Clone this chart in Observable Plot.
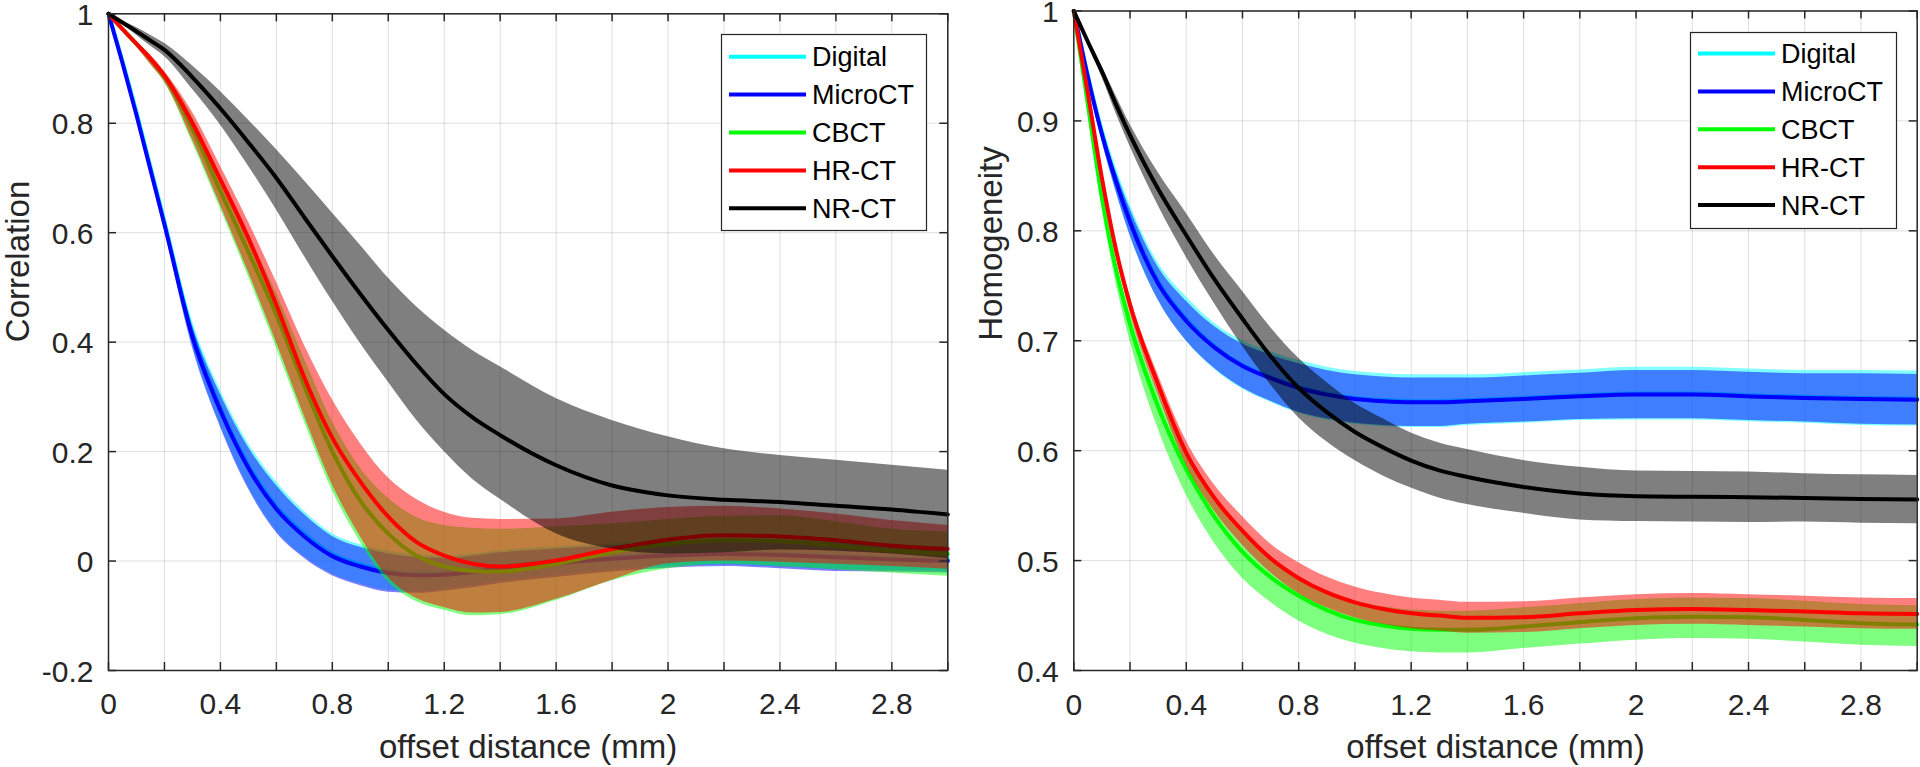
<!DOCTYPE html>
<html><head><meta charset="utf-8">
<script src="https://cdn.jsdelivr.net/npm/d3@7"></script>
<script src="https://cdn.jsdelivr.net/npm/@observablehq/plot@0.6"></script>
<style>
body{margin:0;background:#fff;}
#wrap{position:relative;width:1920px;height:767px;overflow:hidden;font-family:"Liberation Sans",Arial,Helvetica,sans-serif;background:#fff;}
.panel{position:absolute;top:0;}
.legend{position:absolute;top:0;left:0;}
</style></head><body><div id="wrap"></div>
<script>
// ---------- data ----------
const offset = [0, 0.05, 0.1, 0.15, 0.2, 0.3, 0.4, 0.5, 0.6, 0.7, 0.8, 0.9, 1.0, 1.1, 1.2, 1.3, 1.4, 1.6, 1.8, 2.0, 2.2, 2.4, 2.6, 2.8, 3.0];
const seriesNames = ["Digital", "MicroCT", "CBCT", "HR-CT", "NR-CT"];
const seriesColors = ["#00ffff", "#0000ff", "#00ff00", "#ff0000", "#000000"];

const xGridTicks = [0, 0.2, 0.4, 0.6, 0.8, 1, 1.2, 1.4, 1.6, 1.8, 2, 2.2, 2.4, 2.6, 2.8, 3];
const xLabelTicks = [0, 0.4, 0.8, 1.2, 1.6, 2, 2.4, 2.8];
const corrTicks = [-0.2, 0, 0.2, 0.4, 0.6, 0.8, 1];
const homTicks = [0.4, 0.5, 0.6, 0.7, 0.8, 0.9, 1];

// Correlation (left)
const corrDgMean = [1, 0.913, 0.820, 0.720, 0.620, 0.416, 0.280, 0.175, 0.100, 0.050, 0.013, -0.006, -0.018, -0.022, -0.021, -0.016, -0.009, 0.000, 0.008, 0.013, 0.016, 0.014, 0.010, 0.006, 0.003];
const corrDgHi   = [1, 0.917, 0.827, 0.730, 0.632, 0.438, 0.312, 0.215, 0.145, 0.091, 0.050, 0.030, 0.018, 0.012, 0.009, 0.013, 0.019, 0.026, 0.031, 0.036, 0.039, 0.039, 0.036, 0.029, 0.025];
const corrDgLo   = [1, 0.909, 0.813, 0.710, 0.608, 0.394, 0.248, 0.135, 0.055, 0.008, -0.024, -0.042, -0.054, -0.056, -0.051, -0.045, -0.037, -0.026, -0.016, -0.010, -0.007, -0.011, -0.016, -0.017, -0.019];

const corrMcMean = [1, 0.910, 0.815, 0.715, 0.615, 0.410, 0.275, 0.170, 0.095, 0.045, 0.009, -0.010, -0.022, -0.026, -0.025, -0.020, -0.013, -0.004, 0.004, 0.010, 0.013, 0.011, 0.007, 0.003, 0.000];
const corrMcHi   = [1, 0.913, 0.821, 0.723, 0.625, 0.430, 0.305, 0.208, 0.138, 0.085, 0.045, 0.025, 0.013, 0.007, 0.005, 0.009, 0.015, 0.022, 0.028, 0.033, 0.036, 0.036, 0.033, 0.026, 0.022];
const corrMcLo   = [1, 0.907, 0.809, 0.707, 0.605, 0.390, 0.245, 0.132, 0.052, 0.005, -0.027, -0.045, -0.057, -0.059, -0.055, -0.049, -0.041, -0.030, -0.020, -0.013, -0.010, -0.014, -0.019, -0.020, -0.022];

const corrCbMean = [1, 0.972, 0.945, 0.917, 0.885, 0.790, 0.676, 0.565, 0.450, 0.320, 0.200, 0.110, 0.050, 0.010, -0.010, -0.018, -0.019, -0.005, 0.016, 0.031, 0.038, 0.036, 0.028, 0.019, 0.013];
const corrCbHi   = [1, 0.975, 0.950, 0.923, 0.893, 0.812, 0.700, 0.595, 0.490, 0.370, 0.255, 0.170, 0.115, 0.080, 0.065, 0.060, 0.058, 0.062, 0.068, 0.076, 0.082, 0.083, 0.072, 0.058, 0.053];
const corrCbLo   = [1, 0.968, 0.940, 0.908, 0.875, 0.765, 0.644, 0.520, 0.390, 0.255, 0.129, 0.035, -0.038, -0.074, -0.090, -0.100, -0.098, -0.072, -0.036, -0.014, -0.006, -0.010, -0.016, -0.022, -0.028];

const corrHrMean = [1, 0.972, 0.945, 0.918, 0.887, 0.800, 0.697, 0.590, 0.468, 0.335, 0.225, 0.145, 0.081, 0.035, 0.010, -0.005, -0.010, 0.001, 0.022, 0.039, 0.047, 0.045, 0.038, 0.028, 0.022];
const corrHrHi   = [1, 0.975, 0.950, 0.925, 0.895, 0.820, 0.722, 0.620, 0.510, 0.395, 0.295, 0.215, 0.152, 0.113, 0.089, 0.078, 0.076, 0.077, 0.089, 0.098, 0.100, 0.095, 0.086, 0.074, 0.065];
const corrHrLo   = [1, 0.970, 0.940, 0.908, 0.876, 0.770, 0.650, 0.528, 0.400, 0.265, 0.140, 0.045, -0.030, -0.068, -0.085, -0.095, -0.094, -0.070, -0.035, -0.005, 0.000, -0.002, -0.006, -0.010, -0.015];

const corrNrMean = [1, 0.984, 0.968, 0.951, 0.934, 0.884, 0.827, 0.765, 0.700, 0.628, 0.557, 0.488, 0.422, 0.360, 0.305, 0.263, 0.230, 0.175, 0.138, 0.120, 0.112, 0.108, 0.101, 0.094, 0.085];
const corrNrHi   = [1, 0.987, 0.975, 0.961, 0.946, 0.905, 0.858, 0.806, 0.752, 0.695, 0.636, 0.577, 0.517, 0.465, 0.422, 0.385, 0.355, 0.297, 0.257, 0.227, 0.205, 0.193, 0.184, 0.175, 0.166];
const corrNrLo   = [1, 0.981, 0.961, 0.941, 0.922, 0.862, 0.797, 0.722, 0.642, 0.557, 0.475, 0.398, 0.327, 0.258, 0.200, 0.150, 0.113, 0.050, 0.022, 0.013, 0.015, 0.020, 0.018, 0.013, 0.004];

// Homogeneity (right)
const homDgMean = [1, 0.941, 0.890, 0.847, 0.810, 0.754, 0.720, 0.695, 0.678, 0.667, 0.658, 0.652, 0.648, 0.646, 0.645, 0.645, 0.646, 0.648, 0.6504, 0.652, 0.652, 0.6504, 0.649, 0.648, 0.6474];
const homDgHi   = [1, 0.945, 0.898, 0.858, 0.824, 0.771, 0.740, 0.716, 0.700, 0.690, 0.682, 0.676, 0.672, 0.670, 0.669, 0.669, 0.669, 0.671, 0.6734, 0.676, 0.676, 0.6744, 0.673, 0.673, 0.6724];
const homDgLo   = [1, 0.937, 0.882, 0.836, 0.796, 0.737, 0.700, 0.674, 0.656, 0.644, 0.634, 0.628, 0.624, 0.622, 0.621, 0.621, 0.623, 0.625, 0.6274, 0.628, 0.628, 0.6264, 0.625, 0.623, 0.6224];

const homMcMean = [1, 0.940, 0.888, 0.845, 0.808, 0.752, 0.718, 0.694, 0.677, 0.666, 0.657, 0.651, 0.647, 0.645, 0.644, 0.644, 0.645, 0.647, 0.6494, 0.651, 0.651, 0.6494, 0.648, 0.647, 0.6464];
const homMcHi   = [1, 0.943, 0.894, 0.854, 0.820, 0.767, 0.736, 0.713, 0.697, 0.687, 0.679, 0.673, 0.669, 0.667, 0.666, 0.666, 0.666, 0.668, 0.6704, 0.673, 0.673, 0.6714, 0.670, 0.670, 0.6694];
const homMcLo   = [1, 0.937, 0.882, 0.836, 0.796, 0.737, 0.700, 0.675, 0.657, 0.645, 0.635, 0.629, 0.625, 0.623, 0.622, 0.622, 0.624, 0.626, 0.6284, 0.629, 0.629, 0.6274, 0.626, 0.624, 0.6234];

const homCbMean = [1, 0.915, 0.830, 0.765, 0.715, 0.640, 0.583, 0.540, 0.508, 0.485, 0.468, 0.455, 0.446, 0.441, 0.438, 0.437, 0.437, 0.440, 0.444, 0.4476, 0.449, 0.4485, 0.446, 0.443, 0.4418];
const homCbHi   = [1, 0.918, 0.837, 0.774, 0.726, 0.654, 0.598, 0.556, 0.525, 0.502, 0.485, 0.472, 0.463, 0.458, 0.455, 0.454, 0.454, 0.457, 0.461, 0.4646, 0.466, 0.4655, 0.463, 0.460, 0.4588];
const homCbLo   = [1, 0.912, 0.822, 0.753, 0.700, 0.620, 0.560, 0.516, 0.484, 0.462, 0.445, 0.433, 0.425, 0.420, 0.417, 0.416, 0.416, 0.420, 0.424, 0.4276, 0.429, 0.4285, 0.426, 0.423, 0.4218];

const homHrMean = [1, 0.925, 0.848, 0.783, 0.733, 0.660, 0.598, 0.557, 0.527, 0.502, 0.484, 0.471, 0.462, 0.456, 0.452, 0.450, 0.448, 0.4485, 0.452, 0.455, 0.456, 0.455, 0.4536, 0.452, 0.4515];
const homHrHi   = [1, 0.928, 0.853, 0.789, 0.740, 0.669, 0.609, 0.569, 0.540, 0.515, 0.498, 0.485, 0.476, 0.470, 0.466, 0.464, 0.462, 0.4625, 0.466, 0.469, 0.470, 0.469, 0.4676, 0.466, 0.4655];
const homHrLo   = [1, 0.922, 0.843, 0.777, 0.726, 0.651, 0.587, 0.545, 0.514, 0.489, 0.470, 0.457, 0.448, 0.442, 0.438, 0.436, 0.434, 0.4345, 0.438, 0.441, 0.442, 0.441, 0.4396, 0.438, 0.4375];

const homNrMean = [1, 0.972, 0.945, 0.915, 0.887, 0.838, 0.796, 0.756, 0.720, 0.686, 0.657, 0.635, 0.617, 0.603, 0.591, 0.582, 0.576, 0.567, 0.561, 0.5585, 0.558, 0.5576, 0.557, 0.556, 0.5555];
const homNrHi   = [1, 0.975, 0.950, 0.923, 0.897, 0.853, 0.816, 0.778, 0.745, 0.712, 0.684, 0.662, 0.643, 0.629, 0.616, 0.607, 0.601, 0.591, 0.585, 0.5815, 0.581, 0.5806, 0.579, 0.578, 0.5775];
const homNrLo   = [1, 0.969, 0.940, 0.907, 0.877, 0.823, 0.776, 0.734, 0.695, 0.660, 0.630, 0.608, 0.591, 0.577, 0.566, 0.557, 0.551, 0.543, 0.537, 0.5355, 0.535, 0.5346, 0.535, 0.534, 0.5335];

// ---------- build ----------
const FONT = '"Liberation Sans", Arial, Helvetica, sans-serif';
const AX = "#262626";
function rows(mean, lo, hi) { return offset.map((x, i) => ({x, mean: mean[i], lo: lo[i], hi: hi[i]})); }

const corrSeries = [
  rows(corrDgMean, corrDgLo, corrDgHi), rows(corrMcMean, corrMcLo, corrMcHi),
  rows(corrCbMean, corrCbLo, corrCbHi), rows(corrHrMean, corrHrLo, corrHrHi),
  rows(corrNrMean, corrNrLo, corrNrHi)
];
const homSeries = [
  rows(homDgMean, homDgLo, homDgHi), rows(homMcMean, homMcLo, homMcHi),
  rows(homCbMean, homCbLo, homCbHi), rows(homHrMean, homHrLo, homHrHi),
  rows(homNrMean, homNrLo, homNrHi)
];

function panel(cfg) {
  const W = 960, H = 767;
  const {mL, mR, mT, mB} = cfg;
  const frameH = H - mT - mB, frameW = W - mL - mR;
  const marks = [
    Plot.ruleX(xGridTicks, {x: d => d, stroke: AX, strokeOpacity: 0.15, strokeWidth: 1}),
    Plot.ruleY(cfg.yTicks, {y: d => d, stroke: AX, strokeOpacity: 0.15, strokeWidth: 1})
  ];
  cfg.series.forEach((s, i) => {
    marks.push(Plot.areaY(s, {x: "x", y1: "lo", y2: "hi", fill: seriesColors[i], fillOpacity: 0.5, curve: "monotone-x"}));
    marks.push(Plot.line(s, {x: "x", y: "mean", stroke: seriesColors[i], strokeWidth: 4, curve: "monotone-x"}));
  });
  marks.push(Plot.frame({stroke: AX, strokeWidth: 1.5}));
  marks.push(Plot.ruleX(xGridTicks, {x: d => d, stroke: AX, strokeWidth: 1.5, insetTop: frameH - 8}));
  marks.push(Plot.ruleX(xGridTicks, {x: d => d, stroke: AX, strokeWidth: 1.5, insetBottom: frameH - 8}));
  marks.push(Plot.ruleY(cfg.yTicks, {y: d => d, stroke: AX, strokeWidth: 1.5, insetRight: frameW - 8}));
  marks.push(Plot.ruleY(cfg.yTicks, {y: d => d, stroke: AX, strokeWidth: 1.5, insetLeft: frameW - 8}));
  marks.push(Plot.text(xLabelTicks, {x: d => d, text: d => String(d), frameAnchor: "bottom", dy: cfg.xTickDy, lineAnchor: "middle", fontSize: 30, fill: AX}));
  marks.push(Plot.text(cfg.yTicks, {y: d => d, text: d => String(d), frameAnchor: "left", dx: -15, dy: 1.5, textAnchor: "end", lineAnchor: "middle", fontSize: 30, fill: AX}));
  marks.push(Plot.text(["offset distance (mm)"], {frameAnchor: "bottom", dy: 77, text: d => d, fontSize: 33, lineAnchor: "middle", fill: AX}));
  marks.push(Plot.text([cfg.yLabel], {frameAnchor: "left", dx: cfg.yLabelDx, rotate: -90, text: d => d, fontSize: 33, lineAnchor: "middle", fill: AX}));
  return Plot.plot({
    width: W, height: H,
    marginLeft: mL, marginRight: mR, marginTop: mT, marginBottom: mB,
    x: {domain: [0, 3], axis: null},
    y: {domain: cfg.yDomain, axis: null},
    style: {fontFamily: FONT, background: "white", overflow: "visible"},
    marks
  });
}

const wrap = document.getElementById("wrap");
const left = panel({series: corrSeries, yTicks: corrTicks, yDomain: [-0.2, 1], yLabel: "Correlation",
  mL: 108, mR: 12.7, mT: 13.3, mB: 97, xTickDy: 34, yLabelDx: -90.5});
const right = panel({series: homSeries, yTicks: homTicks, yDomain: [0.4, 1], yLabel: "Homogeneity",
  mL: 113.3, mR: 3.3, mT: 10.5, mB: 97, xTickDy: 35, yLabelDx: -82});
const d1 = document.createElement("div"); d1.className = "panel"; d1.style.left = "0px"; d1.appendChild(left);
const d2 = document.createElement("div"); d2.className = "panel"; d2.style.left = "960px"; d2.appendChild(right);
wrap.appendChild(d1); wrap.appendChild(d2);

// ---------- legends ----------
const svg = d3.select(wrap).append("svg").attr("class", "legend").attr("width", 1920).attr("height", 767)
  .style("font-family", FONT);
function legend(x0, y0, w, h, rowY0) {
  const g = svg.append("g").attr("transform", `translate(${x0},${y0})`);
  g.append("rect").attr("x", 0.5).attr("y", 0.5).attr("width", w).attr("height", h)
    .attr("fill", "white").attr("stroke", AX).attr("stroke-width", 1.2);
  seriesNames.forEach((n, i) => {
    const y = rowY0 + i * 37.9;
    g.append("line").attr("x1", 8).attr("x2", 85).attr("y1", y).attr("y2", y)
      .attr("stroke", seriesColors[i]).attr("stroke-width", 4);
    g.append("text").attr("x", 91).attr("y", y).attr("dy", "0.35em").attr("font-size", 27)
      .attr("fill", "#000").text(n);
  });
}
legend(721, 34, 205, 196, 22.7);
legend(1690, 32, 206, 196, 21.5);
</script></body></html>
